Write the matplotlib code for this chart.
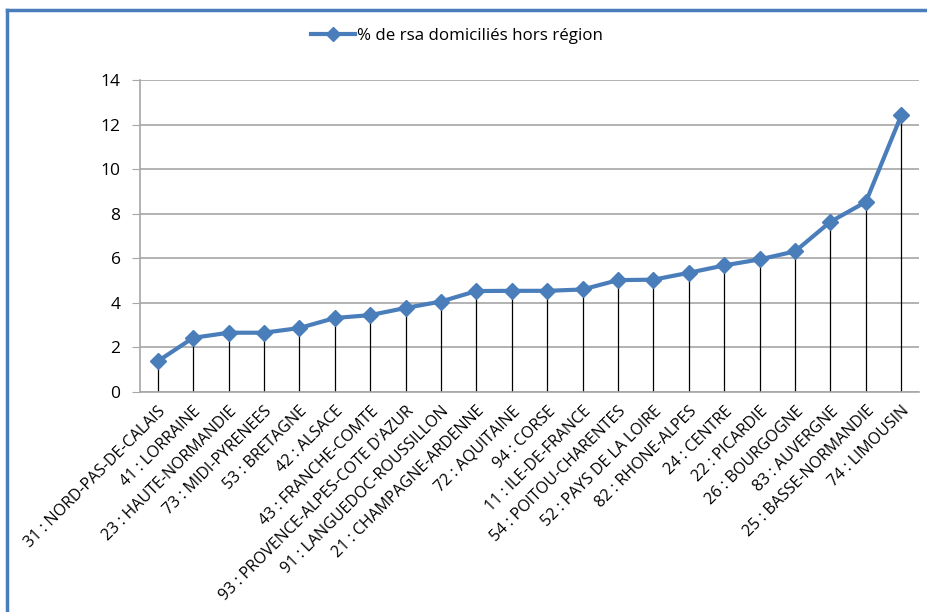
import numpy as np
import matplotlib
matplotlib.use("Agg")
import matplotlib.pyplot as plt
from matplotlib.lines import Line2D

plt.rcParams['font.family'] = ['Open Sans', 'DejaVu Sans']

regions = [
    "31 : NORD-PAS-DE-CALAIS", "41 : LORRAINE", "23 : HAUTE-NORMANDIE",
    "73 : MIDI-PYRENEES", "53 : BRETAGNE", "42 : ALSACE",
    "43 : FRANCHE-COMTE", "93 : PROVENCE-ALPES-COTE D'AZUR",
    "91 : LANGUEDOC-ROUSSILLON", "21 : CHAMPAGNE-ARDENNE", "72 : AQUITAINE",
    "94 : CORSE", "11 : ILE-DE-FRANCE", "54 : POITOU-CHARENTES",
    "52 : PAYS DE LA LOIRE", "82 : RHONE-ALPES", "24 : CENTRE",
    "22 : PICARDIE", "26 : BOURGOGNE", "83 : AUVERGNE",
    "25 : BASSE-NORMANDIE", "74 : LIMOUSIN",
]
pct_hors_region = [1.38, 2.43, 2.66, 2.66, 2.87, 3.32, 3.45, 3.77, 4.06, 4.53,
                   4.54, 4.54, 4.60, 5.02, 5.04, 5.35, 5.68, 5.95, 6.31, 7.64,
                   8.53, 12.42]
series_name = "% de rsa domiciliés hors région"

blue = "#4A7EBB"
x = np.arange(len(regions))

fig = plt.figure(figsize=(9.28, 6.12), dpi=100)
ax = fig.add_axes([140 / 928, 1 - 392 / 612, (919 - 140) / 928, (392 - 80) / 612])

# drop lines from each point down to the axis
ax.vlines(x, 0, pct_hors_region, color="black", lw=0.9, zorder=2)
ax.plot(x, pct_hors_region, color=blue, lw=3, marker="D", markersize=8,
        zorder=3, label=series_name)

ax.set_xlim(-0.5, len(regions) - 0.5)
ax.set_ylim(0, 14)
ax.set_yticks(np.arange(0, 15, 2))
ax.yaxis.grid(True, color="#A6A6A6", lw=1.2)
ax.set_axisbelow(True)
for s in ["top", "right"]:
    ax.spines[s].set_visible(False)
ax.spines["left"].set_color("#A6A6A6")
ax.spines["bottom"].set_color("#A6A6A6")
ax.spines["left"].set_linewidth(1.2)
ax.spines["bottom"].set_linewidth(1.2)
ax.tick_params(axis="y", length=6, color="#A6A6A6", labelsize=12.5, pad=8)
ax.tick_params(axis="x", length=0, pad=8)
ax.set_xticks(x)
ax.set_xticklabels(regions, rotation=45, ha="right", rotation_mode="anchor",
                   fontsize=11.5)

handle = Line2D([], [], color=blue, lw=3, marker="D", markersize=7)
fig.legend([handle], [series_name], loc="center", bbox_to_anchor=(457 / 928, 1 - 36 / 612),
           frameon=False, fontsize=12.2, handlelength=2.6, handletextpad=0.1)

# blue chart border
fig.add_artist(Line2D([7 / 928, 7 / 928], [0, 1 - 10 / 612], color=blue, lw=2.5,
                      transform=fig.transFigure))
fig.add_artist(Line2D([7 / 928, 1], [1 - 10 / 612, 1 - 10 / 612], color=blue, lw=2.5,
                      transform=fig.transFigure))

fig.savefig("out.png", dpi=100)
